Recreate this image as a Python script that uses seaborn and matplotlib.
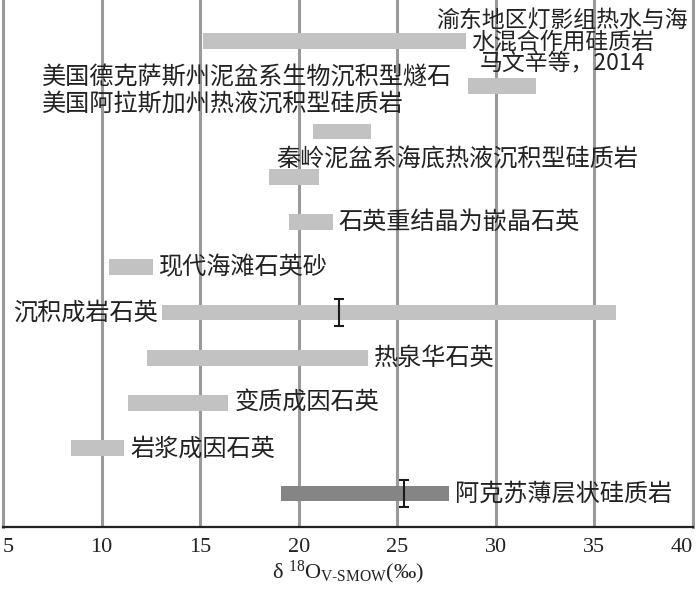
import numpy as np
import pandas as pd
import matplotlib
matplotlib.use("Agg")
import matplotlib.pyplot as plt
import seaborn as sns

# ---------------- data ----------------
categories = [
    "渝东地区灯影组热水与海水混合作用硅质岩",
    "美国德克萨斯州泥盆系生物沉积型燧石",
    "美国阿拉斯加州热液沉积型硅质岩",
    "秦岭泥盆系海底热液沉积型硅质岩",
    "石英重结晶为嵌晶石英",
    "现代海滩石英砂",
    "沉积成岩石英",
    "热泉华石英",
    "变质成因石英",
    "岩浆成因石英",
    "阿克苏薄层状硅质岩",
]
range_start = [15.13, 28.57, 20.71, 18.50, 19.51, 10.38, 13.05, 12.30, 11.33, 8.45, 19.10]
range_end = [28.47, 32.03, 23.67, 21.03, 21.73, 12.60, 36.10, 23.52, 16.43, 11.14, 27.63]
mean_values = [np.nan, np.nan, np.nan, np.nan, np.nan, np.nan, 22.06, np.nan, np.nan, np.nan, 25.36]
x_ticks = [5, 10, 15, 20, 25, 30, 35, 40]
top_note = "渝东地区灯影组热水与海\n水混合作用硅质岩\n马文辛等，2014"
xlabel_text = "δ $^{18}$O$_{\\mathrm{V\u2010SMOW}}$(‰)"

# ---------------- style ----------------
sns.set_style("white")
plt.rcParams["font.family"] = ["Noto Sans CJK SC", "DejaVu Sans"]
plt.rcParams["mathtext.fontset"] = "custom"
plt.rcParams["mathtext.rm"] = "Liberation Serif"
plt.rcParams["mathtext.it"] = "Liberation Serif:italic"

LIGHT = "#c2c2c2"
DARK = "#858585"
GRID = "#9a9a9a"
TXT = "#222222"
bar_colors = [LIGHT] * 10 + [DARK]

df = pd.DataFrame({
    "name": categories,
    "start": range_start,
    "end": range_end,
})
df["span"] = df["end"] - df["start"]

fig = plt.figure(figsize=(7.0, 5.91), dpi=100)
ax = fig.add_axes([3 / 700, (591 - 527) / 591, 690 / 700, 527 / 591])

sns.barplot(data=df, x="span", y="name", orient="y", left=df["start"].to_numpy(),
            width=0.35, color=LIGHT, linewidth=0, errorbar=None, ax=ax, zorder=3)
for patch, c in zip(ax.patches, bar_colors):
    patch.set_facecolor(c)
    patch.set_edgecolor("none")

pos = np.arange(len(categories))
ax.errorbar(mean_values, pos, yerr=0.29, fmt="none", ecolor="#1a1a1a",
            elinewidth=1.5, capsize=3.5, capthick=1.5, zorder=4)

ax.set_xlim(5, 40)
ax.set_ylim(10.74, -0.906)
ax.set_xticks(x_ticks)
ax.set_xticklabels([str(t) for t in x_ticks], family="Liberation Serif", fontsize=16, color=TXT)
tl = ax.get_xticklabels()
tl[0].set_horizontalalignment("left")
tl[-1].set_horizontalalignment("right")
ax.set_yticks([])
ax.set_ylabel("")
ax.set_xlabel(xlabel_text, family="Liberation Serif", fontsize=16, color=TXT, labelpad=1)
ax.tick_params(axis="x", length=0, pad=8)

ax.grid(axis="x", color=GRID, linewidth=2.2)
ax.grid(axis="y", visible=False)
ax.set_axisbelow(True)

for side in ("left", "right"):
    ax.spines[side].set_color(GRID)
    ax.spines[side].set_linewidth(2.2)
ax.spines["top"].set_visible(False)
ax.spines["bottom"].set_color("#222222")
ax.spines["bottom"].set_linewidth(1.6)

FS = 17.4
gap = 0.3
# labels to the right of their bars
for i in [4, 5, 7, 8, 9, 10]:
    ax.text(range_end[i] + gap, i, categories[i], ha="left", va="center",
            fontsize=FS, color=TXT, zorder=5)
# label to the left of its bar
ax.text(range_start[6] - 0.2, 6, categories[6], ha="right", va="center",
        fontsize=FS, color=TXT, zorder=5)
# labels placed above their bars
ax.text(6.98, 0.80, categories[1], ha="left", va="center", fontsize=FS, color=TXT, zorder=5)
ax.text(6.98, 1.41, categories[2], ha="left", va="center", fontsize=FS, color=TXT, zorder=5)
ax.text(18.85, 2.61, categories[3], ha="left", va="center", fontsize=FS, color=TXT, zorder=5)
# top note
ax.text(33.36, 0.03, top_note, ha="center", va="center", fontsize=16.5,
        color=TXT, linespacing=0.93, zorder=5)

fig.savefig("out.png", dpi=100)
